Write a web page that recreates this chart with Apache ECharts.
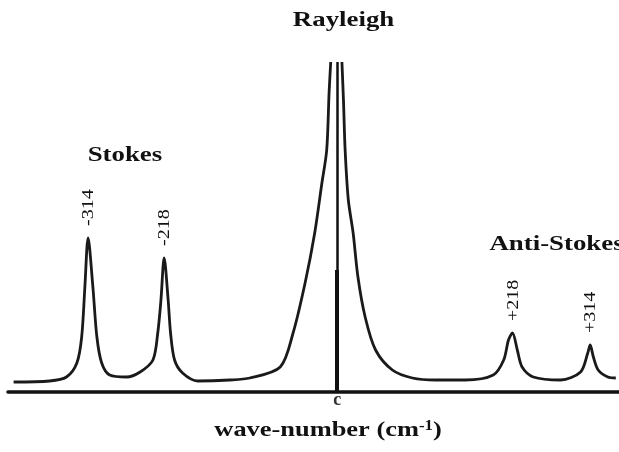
<!DOCTYPE html>
<html>
<head>
<meta charset="utf-8">
<script src="https://cdn.jsdelivr.net/npm/echarts@6/dist/echarts.min.js"></script>
<style>
html,body{margin:0;padding:0;background:#fff;}
#c{width:619px;height:452px;}
</style>
</head>
<body>
<div id="c"></div>
<script>
var waveNumber = [-404,-359,-338,-325,-319,-315,-311,-305,-300,-294,-284,-263,
  -246,-230,-224,-220,-216,-211,-208,-203,-193,-174,-134,
  -109,-71,-55,-40,-28,-19,-13,-10,-8,
  0,
  6,8,10,14,20,26,35,48,69,94,123,160,
  195,208,214,219,225,231,245,279,304,313,316,320,326,338,348];
// intensity (arbitrary units, Rayleigh peak off-scale); null = off-scale gap
var intensity = [10,11,15,29,55,105,154,105,55,29,17,15,
  20,32,59,92,134,92,59,32,19,11,12,
  14,25,59,109,159,209,242,300,330,
  null,
  330,290,242,192,159,115,75,42,22,14,12,12,
  17,32,52,59,42,25,15,12,20,39,47,35,22,15,14];
var yMax = 330;
var peakLabels = ['-314','-218','+218','+314'];
var peakAt = [-311,-216,219,316];      // wave-number of each labelled peak
var peakTop = [154,134,59,47];         // intensity at each labelled peak
var regionLabels = ['Stokes','Rayleigh','Anti-Stokes'];
var axisTitle = 'wave-number';
var axisUnit = 'cm';
var axisExp = '-1';
var zeroLabel = 'c';

var seriesData = waveNumber.map(function(x,i){
  return [x, intensity[i] === null ? '-' : intensity[i]];
});

var chart = echarts.init(document.getElementById('c'));
var FONT = '"Liberation Serif","DejaVu Serif",serif';
chart.setOption({
  backgroundColor:'#fff',
  animation:false,
  grid:{left:8,right:0,top:62,bottom:60},
  xAxis:{
    type:'value',min:-411,max:352,
    axisLine:{show:true,onZero:false,lineStyle:{color:'#111',width:3.5}},
    axisTick:{show:false},
    splitLine:{show:false},
    axisLabel:{show:false}
  },
  yAxis:{type:'value',min:0,max:yMax,show:false,splitLine:{show:false}},
  series:[{
    type:'line',
    data:seriesData,
    showSymbol:false,
    symbol:'none',
    connectNulls:false,
    smooth:0.3,
    lineStyle:{color:'#1a1a1a',width:2.8},
    markLine:{
      silent:true,symbol:'none',animation:false,
      label:{show:false},
      data:[
        {xAxis:0,lineStyle:{color:'#111',width:2.5,type:'solid'}},
        [{coord:[0,0],lineStyle:{color:'#111',width:4,type:'solid'}},{coord:[0,122]}]
      ]
    }
  }]
});

function px(x,y){return chart.convertToPixel({gridIndex:0},[x,y]);}
var g = [];
var bold = 'bold 22px '+FONT;
var p0 = px(0,0);
g.push({type:'text',x:p0[0],y:p0[1]+8,silent:true,
  style:{text:zeroLabel,font:'bold 18px '+FONT,fill:'#333',textAlign:'center',textVerticalAlign:'middle'}});
// region titles
var titlePos = [[-265,237],[8,372],[274,148]];
regionLabels.forEach(function(t,i){
  var p = px(titlePos[i][0],titlePos[i][1]);
  g.push({type:'text',x:p[0],y:p[1],scaleX:1.22,silent:true,
    style:{text:t,font:bold,fill:'#111',textAlign:'center',textVerticalAlign:'middle'}});
});
// peak labels (rotated)
peakLabels.forEach(function(t,i){
  var p = px(peakAt[i],peakTop[i]);
  g.push({type:'text',x:p[0]+1,y:p[1]-12,rotation:Math.PI/2,scaleX:1.25,silent:true,
    style:{text:t,font:'16px '+FONT,fill:'#111',textAlign:'left',textVerticalAlign:'middle'}});
});
// axis title
g.push({type:'text',x:328,y:430,scaleX:1.2,silent:true,
  style:{text:'{a|'+axisTitle+' ('+axisUnit+'}{s|'+axisExp+'}{a|)}',
    textAlign:'center',textVerticalAlign:'middle',
    rich:{a:{font:bold,fill:'#111'},s:{font:'bold 14px '+FONT,fill:'#111',verticalAlign:'top',padding:[0,0,8,0]}}}});
chart.setOption({graphic:g});
</script>
</body>
</html>
